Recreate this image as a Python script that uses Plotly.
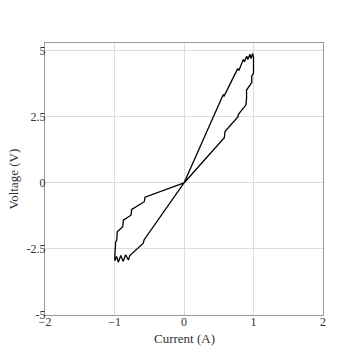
import plotly.graph_objects as go

# hysteresis loop
current = [
    0.0, 0.565, 0.575, 0.773, 0.79, 0.853, 0.868, 0.902, 0.917, 0.95, 0.964,
    0.988, 0.997, 1.0, 1.0, 0.975, 0.975, 0.9, 0.9, 0.89, 0.78, 0.78, 0.59,
    0.58, 0.0,
    -0.555, -0.575, -0.585, -0.78, -0.80, -0.84, -0.875, -0.91, -0.945,
    -0.97, -0.995, -0.995, -0.983, -0.968, -0.96, -0.882, -0.873, -0.763,
    -0.752, -0.571, -0.561, 0.0,
]
voltage = [
    0.0, 3.35, 3.28, 4.33, 4.26, 4.68, 4.59, 4.80, 4.68, 4.87, 4.71,
    4.90, 4.78, 4.80, 4.15, 4.05, 3.80, 3.52, 3.20, 2.95, 2.59, 2.52, 1.95,
    1.71, 0.0,
    -2.12, -2.16, -2.28, -2.75, -2.92, -2.72, -2.97, -2.75, -3.0,
    -2.78, -2.95, -2.74, -2.23, -2.17, -1.85, -1.66, -1.41, -1.22,
    -1.0, -0.71, -0.54, 0.0,
]

x_ticks = [-2, -1, 0, 1, 2]
x_labels = ["\u22122", "\u22121", "0", "1", "2"]
y_ticks = [5, 2.5, 0, -2.5, -5]
y_labels = ["5", "2.5", "0", "-2.5", "-5"]

font = "Liberation Serif"
txt = "#333"

fig = go.Figure()
fig.add_trace(go.Scatter(
    x=current, y=voltage, mode="lines",
    line=dict(color="black", width=1.3), hoverinfo="none"
))

axis_style = dict(
    showline=True, mirror=True, linecolor="#9a9a9a", linewidth=1,
    showgrid=True, gridcolor="#dcdcdc", gridwidth=1,
    zeroline=False, ticks="", automargin=False,
    tickfont=dict(family=font, size=12, color=txt),
)

fig.update_layout(
    width=360, height=360,
    # page body adds ~8px offset, so margins are shifted to compensate
    margin=dict(l=37, r=45, t=35, b=53),
    plot_bgcolor="white", paper_bgcolor="white",
    showlegend=False,
    xaxis=dict(range=[-2, 2], tickvals=x_ticks, ticktext=x_labels,
               ticklabelstandoff=-4, **axis_style),
    yaxis=dict(range=[-5, 5.3], tickvals=y_ticks, ticktext=y_labels,
               ticklabelstandoff=-4, **axis_style),
)

# axis titles as annotations so they sit close to the frame
fig.add_annotation(text="Current (A)", x=0.5, y=0, xref="paper", yref="paper",
                   xanchor="center", yanchor="top", yshift=-14, showarrow=False,
                   font=dict(family=font, size=13, color=txt))
fig.add_annotation(text="Voltage (V)", x=0, y=0.5, xref="paper", yref="paper",
                   xanchor="right", yanchor="middle", xshift=-23, textangle=-90,
                   showarrow=False, font=dict(family=font, size=13, color=txt))

fig.write_html("out.html")
